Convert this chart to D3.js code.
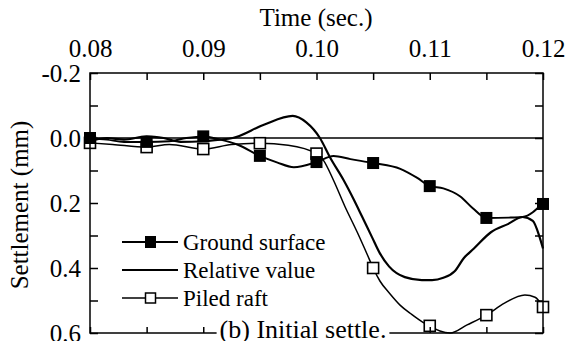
<!DOCTYPE html>
<html>
<head>
<meta charset="utf-8">
<script src="https://cdn.jsdelivr.net/npm/d3@7"></script>
<style>
body { margin: 0; background: #fff; }
</style>
</head>
<body>
<script>
// ground surface (filled squares)
var groundT = [0.080, 0.0815, 0.083, 0.085, 0.087, 0.0885, 0.090, 0.0915, 0.093, 0.095, 0.0965, 0.098, 0.100,
    0.1015, 0.103, 0.105, 0.1074, 0.1089, 0.110, 0.1112, 0.1127, 0.1138, 0.115, 0.117, 0.1182, 0.120];
var groundV = [0.000, 0.005, 0.012, 0.012, 0.010, 0.000, -0.005, 0.005, 0.020, 0.055, 0.075, 0.090, 0.074,
    0.055, 0.065, 0.077, 0.095, 0.123, 0.148, 0.155, 0.180, 0.216, 0.246, 0.245, 0.243, 0.200];

// relative value (line only)
var relT = [0.080, 0.0815, 0.083, 0.085, 0.0865, 0.088, 0.090, 0.0915, 0.0926, 0.0953, 0.0979, 0.0991, 0.1003,
    0.1012, 0.1024, 0.1033, 0.1040, 0.1049, 0.1056, 0.1064, 0.1078, 0.1093, 0.1102, 0.1112, 0.1122, 0.1130,
    0.1139, 0.1154, 0.1169, 0.1182, 0.1191, 0.1197, 0.120];
var relV = [0.010, 0.000, 0.005, -0.005, 0.000, 0.012, 0.010, 0.005, 0.000, -0.040, -0.068, -0.048, 0.000,
    0.060, 0.130, 0.190, 0.240, 0.305, 0.355, 0.395, 0.428, 0.437, 0.437, 0.430, 0.410, 0.370,
    0.340, 0.290, 0.265, 0.243, 0.255, 0.305, 0.340];

// piled raft (open squares)
var raftT = [0.080, 0.082, 0.085, 0.087, 0.090, 0.0925, 0.095, 0.0975, 0.100, 0.1006, 0.1015, 0.1025, 0.1036,
    0.1045, 0.105, 0.1056, 0.1065, 0.1074, 0.1083, 0.1094, 0.110, 0.1109, 0.1118, 0.1133, 0.115, 0.1166,
    0.1184, 0.1193, 0.120];
var raftV = [0.015, 0.020, 0.028, 0.020, 0.034, 0.020, 0.016, 0.022, 0.048, 0.068, 0.130, 0.210, 0.290,
    0.360, 0.400, 0.440, 0.480, 0.515, 0.540, 0.567, 0.578, 0.594, 0.600, 0.575, 0.545, 0.508,
    0.483, 0.490, 0.520];

var markerT = [0.080, 0.085, 0.090, 0.095, 0.100, 0.105, 0.110, 0.115, 0.120];
var groundMarks = [0.000, 0.012, -0.005, 0.055, 0.074, 0.077, 0.148, 0.246, 0.203];
var raftMarks = [0.015, 0.028, 0.034, 0.016, 0.048, 0.400, 0.578, 0.545, 0.520];

var xTicks = [0.08, 0.09, 0.10, 0.11, 0.12];
var yTicks = [-0.2, 0.0, 0.2, 0.4, 0.6];
var legendNames = ["Ground surface", "Relative value", "Piled raft"];

var width = 567, height = 341,
    margin = { top: 73, right: 24, bottom: 8, left: 90 },
    serif = "Liberation Serif";

var svg = d3.select("body").append("svg")
    .attr("width", width)
    .attr("height", height)
    .style("background", "#fff");

var x = d3.scaleLinear().domain([0.08, 0.12]).range([margin.left, width - margin.right]);
var y = d3.scaleLinear().domain([-0.2, 0.6]).range([margin.top, height - margin.bottom]);

// zero reference line
svg.append("line")
    .attr("x1", x(0.08)).attr("x2", x(0.12))
    .attr("y1", y(0)).attr("y2", y(0))
    .attr("stroke", "#000").attr("stroke-width", 1.5);

var line = d3.line()
    .x(function(d) { return x(d[0]); })
    .y(function(d) { return y(d[1]); })
    .curve(d3.curveMonotoneX);

svg.append("path")
    .datum(d3.zip(relT, relV))
    .attr("d", line)
    .attr("fill", "none").attr("stroke", "#000").attr("stroke-width", 2.2);

svg.append("path")
    .datum(d3.zip(raftT, raftV))
    .attr("d", line)
    .attr("fill", "none").attr("stroke", "#000").attr("stroke-width", 1.5);

svg.append("path")
    .datum(d3.zip(groundT, groundV))
    .attr("d", line)
    .attr("fill", "none").attr("stroke", "#000").attr("stroke-width", 2);

var s = 11;
svg.selectAll(".raft")
    .data(d3.zip(markerT, raftMarks))
    .enter().append("rect")
    .attr("x", function(d) { return x(d[0]) - s / 2; })
    .attr("y", function(d) { return y(d[1]) - s / 2; })
    .attr("width", s).attr("height", s)
    .attr("fill", "#fff").attr("stroke", "#000").attr("stroke-width", 1.6);

svg.selectAll(".ground")
    .data(d3.zip(markerT, groundMarks))
    .enter().append("rect")
    .attr("x", function(d) { return x(d[0]) - s / 2 - 0.5; })
    .attr("y", function(d) { return y(d[1]) - s / 2 - 0.5; })
    .attr("width", s + 1).attr("height", s + 1)
    .attr("fill", "#000");

// frame
svg.append("rect")
    .attr("x", x(0.08)).attr("y", y(-0.2))
    .attr("width", x(0.12) - x(0.08)).attr("height", y(0.6) - y(-0.2))
    .attr("fill", "none").attr("stroke", "#000").attr("stroke-width", 1.5);

var minorX = d3.range(0, 9).map(function(i) { return 0.08 + i * 0.005; });
var minorY = d3.range(0, 9).map(function(i) { return -0.2 + i * 0.1; });

function clean(g) { g.select(".domain").remove(); g.selectAll("line").attr("stroke-width", 1.5); }

svg.append("g")
    .attr("transform", "translate(0," + y(-0.2) + ")")
    .call(d3.axisTop(x).tickValues(minorX).tickFormat("").tickSizeInner(-7).tickSizeOuter(0))
    .call(clean);
svg.append("g")
    .attr("transform", "translate(0," + y(-0.2) + ")")
    .call(d3.axisTop(x).tickValues(xTicks).tickFormat(function(d) { return d.toFixed(2); })
        .tickSize(0).tickPadding(16))
    .call(clean)
    .attr("font-family", serif).attr("font-size", 25)
    .selectAll("text").attr("fill", "#000");

svg.append("g")
    .attr("transform", "translate(0," + y(0.6) + ")")
    .call(d3.axisBottom(x).tickValues(minorX).tickFormat("").tickSizeInner(-6).tickSizeOuter(0))
    .call(clean);

svg.append("g")
    .attr("transform", "translate(" + x(0.08) + ",0)")
    .call(d3.axisLeft(y).tickValues(minorY).tickFormat("").tickSizeInner(-8).tickSizeOuter(0))
    .call(clean);
svg.append("g")
    .attr("transform", "translate(" + x(0.08) + ",0)")
    .call(d3.axisLeft(y).tickValues(yTicks).tickFormat(function(d) { return d.toFixed(1); })
        .tickSize(0).tickPadding(9))
    .call(clean)
    .attr("font-family", serif).attr("font-size", 25)
    .selectAll("text").attr("fill", "#000");

svg.append("g")
    .attr("transform", "translate(" + x(0.12) + ",0)")
    .call(d3.axisRight(y).tickValues(minorY).tickFormat("").tickSizeInner(-8).tickSizeOuter(0))
    .call(clean);

svg.append("text")
    .attr("x", 316).attr("y", 26)
    .attr("text-anchor", "middle")
    .attr("font-family", serif).attr("font-size", 25)
    .text("Time (sec.)");

svg.append("text")
    .attr("transform", "translate(28,205)rotate(-90)")
    .attr("text-anchor", "middle")
    .attr("font-family", serif).attr("font-size", 25)
    .text("Settlement (mm)");

// caption sitting on the bottom frame
var cap = svg.append("text")
    .attr("x", 303).attr("y", 338)
    .attr("text-anchor", "middle")
    .attr("font-family", serif).attr("font-size", 26)
    .text("(b) Initial settle.");
var bb = cap.node().getBBox();
svg.insert("rect", function() { return cap.node(); })
    .attr("x", bb.x - 3).attr("y", y(0.6) - 9)
    .attr("width", bb.width + 6).attr("height", 12)
    .attr("fill", "#fff");

// legend
var legend = svg.selectAll(".legend")
    .data(legendNames)
    .enter().append("g")
    .attr("transform", function(d, i) { return "translate(122," + (242 + i * 28) + ")"; });

legend.append("line")
    .attr("x1", 0).attr("x2", 56)
    .attr("stroke", "#000")
    .attr("stroke-width", function(d, i) { return i == 2 ? 1.5 : 2; });

legend.filter(function(d, i) { return i == 0; }).append("rect")
    .attr("x", 23).attr("y", -6).attr("width", 11).attr("height", 12).attr("fill", "#000");
legend.filter(function(d, i) { return i == 2; }).append("rect")
    .attr("x", 23.5).attr("y", -5).attr("width", 10).attr("height", 10)
    .attr("fill", "#fff").attr("stroke", "#000").attr("stroke-width", 1.5);

legend.append("text")
    .attr("x", 61).attr("dy", "0.35em")
    .attr("font-family", serif).attr("font-size", 23)
    .text(function(d) { return d; });
</script>
</body>
</html>
